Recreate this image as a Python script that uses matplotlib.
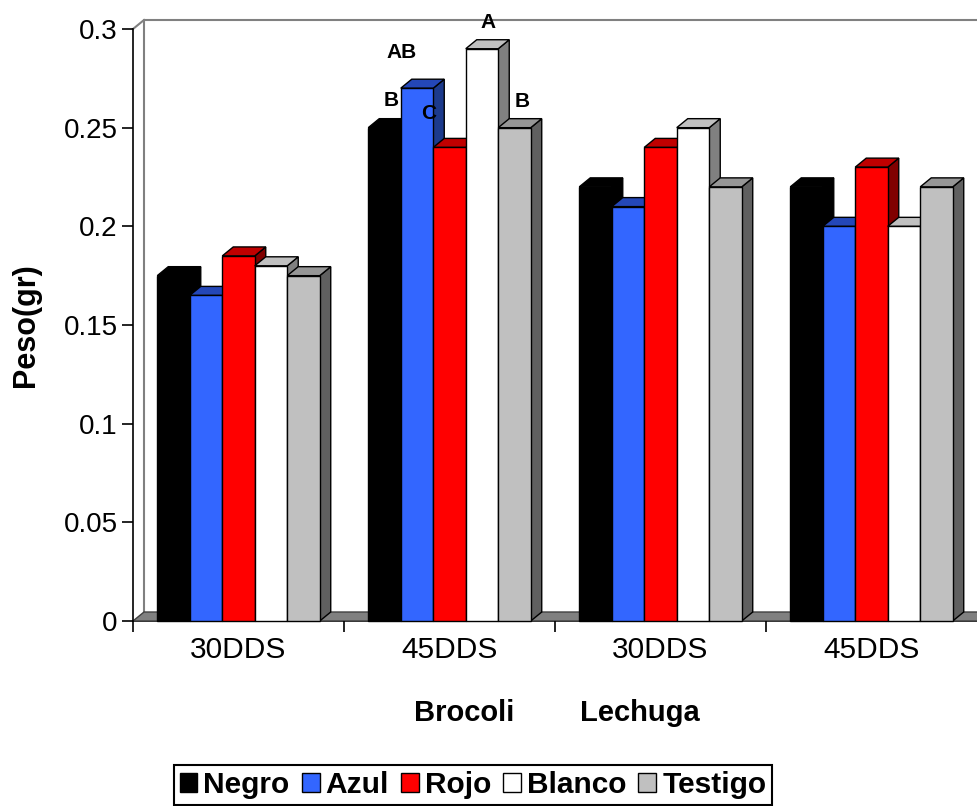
import matplotlib
matplotlib.use("Agg")
import matplotlib.pyplot as plt
from matplotlib.patches import Polygon, Patch

plt.rcParams['font.family'] = ['Liberation Sans', 'DejaVu Sans']

categories = ['30DDS', '45DDS', '30DDS', '45DDS']
series = ['Negro', 'Azul', 'Rojo', 'Blanco', 'Testigo']
negro = [0.175, 0.25, 0.22, 0.22]
azul = [0.165, 0.27, 0.21, 0.20]
rojo = [0.185, 0.24, 0.24, 0.23]
blanco = [0.18, 0.29, 0.25, 0.20]
testigo = [0.175, 0.25, 0.22, 0.22]
values = [negro, azul, rojo, blanco, testigo]

# letters shown over the 45DDS brocoli group
letters = ['B', 'AB', 'C', 'A', 'B']

front = ['#000000', '#3366FF', '#FF0000', '#FFFFFF', '#C0C0C0']
top = ['#000000', '#2447B8', '#C00000', '#C0C0C0', '#969696']
side = ['#000000', '#1C3A8C', '#800000', '#808080', '#606060']

fig = plt.figure(figsize=(9.77, 8.06), dpi=100)
ax = fig.add_axes([133/977, 185/806, 844/977, 592/806])
ax.set_xlim(-0.5, 3.5)
ax.set_ylim(0, 0.3)

dx = 11/211      # depth offset in x data units
dy = 9/1973.3    # depth offset in y data units
w = 0.154

# back wall and floor
wall = '#808080'
ax.plot([-0.5 + dx, -0.5 + dx, 3.6], [dy, 0.3 + dy, 0.3 + dy], color=wall, lw=1.5, clip_on=False, zorder=1)
ax.plot([-0.5, -0.5 + dx], [0.3, 0.3 + dy], color=wall, lw=1.5, clip_on=False, zorder=1)
floor = Polygon([(-0.5, 0), (3.6, 0), (3.6 + dx, dy), (-0.5 + dx, dy)], closed=True,
                facecolor='#808080', edgecolor='#404040', lw=1, clip_on=False, zorder=1)
ax.add_patch(floor)

for j, vals in enumerate(values):
    for i, h in enumerate(vals):
        xl = i + (j - 2) * w - w / 2
        xr = xl + w
        sp = Polygon([(xr, 0), (xr + dx, dy), (xr + dx, h + dy), (xr, h)], closed=True,
                     facecolor=side[j], edgecolor='black', lw=1, clip_on=False, zorder=2 + 2 * j)
        tp = Polygon([(xl, h), (xr, h), (xr + dx, h + dy), (xl + dx, h + dy)], closed=True,
                     facecolor=top[j], edgecolor='black', lw=1, clip_on=False, zorder=2 + 2 * j)
        ax.add_patch(sp)
        ax.add_patch(tp)
    xs = [i + (j - 2) * w for i in range(len(vals))]
    ax.bar(xs, vals, width=w, color=front[j], edgecolor='black', linewidth=1,
           zorder=3 + 2 * j, clip_on=False)

# letters over the 45DDS brocoli bars
lx = [0.723, 0.775, 0.903, 1.182, 1.344]
ly = [0.264, 0.288, 0.257, 0.3035, 0.2635]
for t, x, y in zip(letters, lx, ly):
    ax.text(x, y, t, ha='center', va='center', fontsize=15, fontweight='bold', zorder=20, clip_on=False)

ax.spines['top'].set_visible(False)
ax.spines['right'].set_visible(False)
ax.spines['left'].set_linewidth(1.2)
ax.spines['bottom'].set_linewidth(1.2)
ax.spines['bottom'].set_zorder(0)

ax.set_yticks([0, 0.05, 0.1, 0.15, 0.2, 0.25, 0.3])
ax.set_yticklabels(['0', '0.05', '0.1', '0.15', '0.2', '0.25', '0.3'], fontsize=20)
ax.set_xticks([-0.5, 0.5, 1.5, 2.5])
ax.set_xticklabels([])
ax.set_xticks([0, 1, 2, 3], minor=True)
ax.set_xticklabels(categories, minor=True, fontsize=21.5)
ax.tick_params(axis='x', which='minor', length=0, pad=11)
ax.tick_params(axis='both', which='major', length=8, width=1.2, direction='out')
ax.tick_params(axis='y', pad=3)

ax.set_ylabel('Peso(gr)', fontsize=22, fontweight='bold', labelpad=16)

fig.text(464/977, 1 - 713/806, 'Brocoli', ha='center', va='center', fontsize=21, fontweight='bold')
fig.text(640/977, 1 - 713/806, 'Lechuga', ha='center', va='center', fontsize=21, fontweight='bold')

handles = [Patch(facecolor=c, edgecolor='black', linewidth=1) for c in front]
leg = fig.legend(handles, series, loc='center', bbox_to_anchor=(473/977, 1 - 785/806), ncol=5,
                 frameon=True, fancybox=False, edgecolor='black', framealpha=1,
                 prop={'weight': 'bold', 'size': 21.5}, handlelength=0.6, handleheight=0.6,
                 handletextpad=0.2, columnspacing=0.4, borderpad=0.2, borderaxespad=0)
leg.get_frame().set_linewidth(1.5)

fig.savefig('out.png', dpi=100)
